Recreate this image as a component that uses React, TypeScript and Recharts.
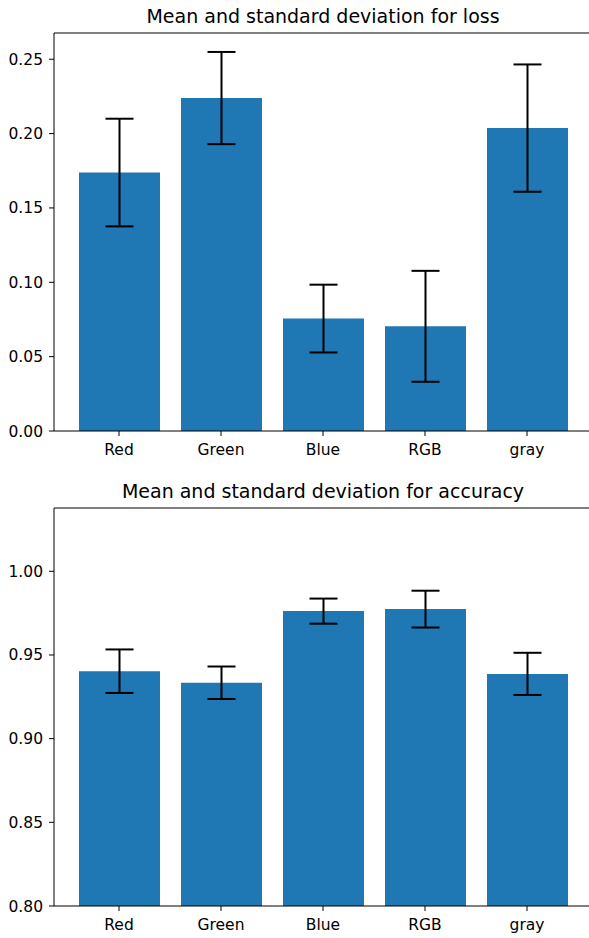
import React from "react";
import { BarChart, Bar, XAxis, YAxis, ErrorBar, ReferenceLine } from "recharts";

const categories = ["Red", "Green", "Blue", "RGB", "gray"];
const lossMean = [0.1738, 0.2239, 0.0756, 0.0704, 0.2037];
const lossStd = [0.0362, 0.031, 0.0228, 0.0373, 0.0428];
const accMean = [0.9403, 0.9334, 0.9762, 0.9774, 0.9387];
const accStd = [0.013, 0.0097, 0.0075, 0.011, 0.0126];
const lossTicks = [0, 0.05, 0.1, 0.15, 0.2, 0.25];
const accTicks = [0.8, 0.85, 0.9, 0.95, 1.0];

const lossData = categories.map((name, i) => ({ name, mean: lossMean[i], std: lossStd[i] }));
const accData = categories.map((name, i) => ({ name, mean: accMean[i], std: accStd[i] }));

const FONT = "DejaVu Sans";
const tickStyle = { fontFamily: FONT, fontSize: 15.5, fill: "#000" };

const lossMax = Math.max(...lossMean.map((m, i) => m + lossStd[i])) * 1.05;
const accMax = Math.max(...accMean.map((m, i) => m + accStd[i])) * 1.05;

function Panel({ data, domain, ticks, marginTop, xHeight, height }) {
  return (
    <BarChart
      width={592}
      height={height}
      data={data}
      margin={{ top: marginTop, right: 0, bottom: 0, left: 0 }}
      barSize={81}
    >
      <XAxis
        dataKey="name"
        interval={0}
        padding={{ left: 14, right: 14 }}
        height={xHeight}
        stroke="#000"
        tickSize={5}
        tickMargin={8}
        tick={tickStyle}
      />
      <YAxis
        type="number"
        domain={domain}
        ticks={ticks}
        allowDataOverflow
        width={54}
        stroke="#000"
        tickSize={5}
        tickMargin={6}
        tick={tickStyle}
        tickFormatter={(v) => Number(v).toFixed(2)}
      />
      <Bar dataKey="mean" fill="#1f77b4" isAnimationActive={false}>
        <ErrorBar dataKey="std" width={14} stroke="#000" strokeWidth={2} direction="y" />
      </Bar>
      <ReferenceLine y={domain[1]} stroke="#000" strokeWidth={1} ifOverflow="visible" />
    </BarChart>
  );
}

const titleStyle = (top) => ({
  position: "absolute",
  left: 0,
  width: 646,
  top,
  textAlign: "center",
  fontFamily: FONT,
  fontSize: 19,
  lineHeight: "19px",
  color: "#000",
  whiteSpace: "nowrap",
});

export default function App() {
  return (
    <div
      style={{
        position: "absolute",
        left: 0,
        top: 0,
        width: 589,
        height: 938,
        overflow: "hidden",
        background: "#fff",
      }}
    >
      <div style={titleStyle(7)}>Mean and standard deviation for loss</div>
      <div style={titleStyle(482)}>Mean and standard deviation for accuracy</div>
      <div style={{ position: "absolute", left: 0, top: 0 }}>
        <Panel data={lossData} domain={[0, lossMax]} ticks={lossTicks} marginTop={33} xHeight={38} height={469} />
      </div>
      <div style={{ position: "absolute", left: 0, top: 469 }}>
        <Panel data={accData} domain={[0.8, accMax]} ticks={accTicks} marginTop={39} xHeight={32} height={469} />
      </div>
    </div>
  );
}
